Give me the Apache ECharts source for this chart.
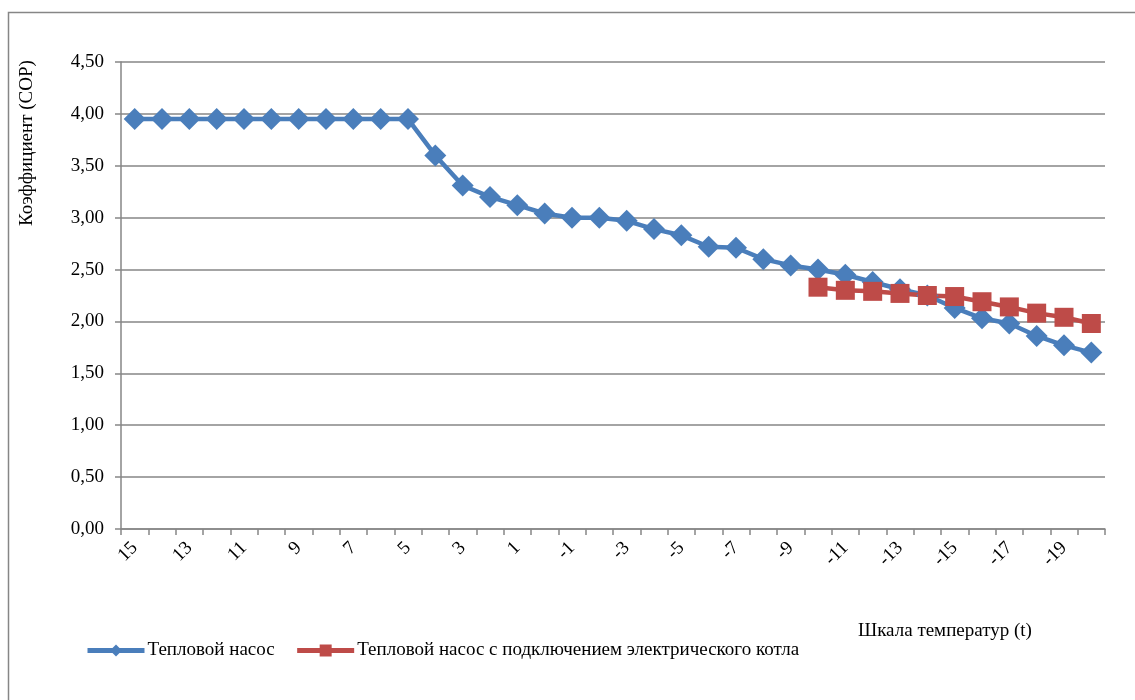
<!DOCTYPE html>
<html>
<head>
<meta charset="utf-8">
<script src="https://cdn.jsdelivr.net/npm/echarts@6/dist/echarts.min.js"></script>
<style>
html,body{margin:0;padding:0;background:#fff;}
#chart{width:1135px;height:700px;}
</style>
</head>
<body>
<div id="chart"></div>
<script>
const categories = ['15','14','13','12','11','10','9','8','7','6','5','4','3','2','1','0','-1','-2','-3','-4','-5','-6','-7','-8','-9','-10','-11','-12','-13','-14','-15','-16','-17','-18','-19','-20'];
const heatPump = [3.95,3.95,3.95,3.95,3.95,3.95,3.95,3.95,3.95,3.95,3.95,3.60,3.31,3.20,3.12,3.04,3.00,3.00,2.97,2.89,2.83,2.72,2.71,2.60,2.54,2.50,2.45,2.38,2.31,2.25,2.13,2.03,1.98,1.86,1.77,1.70];
const heatPumpBoiler = [null,null,null,null,null,null,null,null,null,null,null,null,null,null,null,null,null,null,null,null,null,null,null,null,null,2.33,2.30,2.29,2.27,2.25,2.24,2.19,2.14,2.08,2.04,1.98];
const seriesNames = ['Тепловой насос','Тепловой насос с подключением электрического котла'];
const yAxisTitle = 'Коэффициент (СОР)';
const xAxisTitle = 'Шкала температур (t)';

const FONT = '"Times New Roman", "Liberation Serif", serif';
const FS = 19;
const chart = echarts.init(document.getElementById('chart'));
chart.setOption({
  animation: false,
  backgroundColor: '#fff',
  textStyle: {fontFamily: FONT},
  grid: {left: 121, right: 30, top: 62, bottom: 171, containLabel: false},
  legend: {
    left: 80, top: 636, itemGap: 20, itemWidth: 57, itemHeight: 15,
    textStyle: {fontFamily: FONT, fontSize: FS, color: '#000', padding: [0, 0, 0, -2]},
    lineStyle: {width: 5},
    data: seriesNames
  },
  xAxis: {
    type: 'category', data: categories, boundaryGap: true,
    axisLine: {lineStyle: {color: '#868686', width: 1.5}},
    axisTick: {show: true, interval: 0, length: 6, lineStyle: {color: '#868686', width: 1.5}},
    axisLabel: {interval: 1, rotate: 45, margin: 16, fontFamily: FONT, fontSize: FS, color: '#000'}
  },
  yAxis: {
    type: 'value', min: 0, max: 4.5, interval: 0.5,
    axisLine: {show: true, lineStyle: {color: '#868686', width: 1.5}},
    axisTick: {show: true, length: 6, lineStyle: {color: '#868686', width: 1.5}},
    axisLabel: {margin: 17, fontFamily: FONT, fontSize: FS, color: '#000',
      formatter: v => v.toFixed(2).replace('.', ',')},
    splitLine: {lineStyle: {color: '#868686', width: 1.5}}
  },
  series: [
    {name: seriesNames[0], type: 'line', data: heatPump, symbol: 'diamond', symbolSize: 22, showAllSymbol: true,
     lineStyle: {color: '#4A7EBB', width: 4.5}, itemStyle: {color: '#4A7EBB'}},
    {name: seriesNames[1], type: 'line', data: heatPumpBoiler, symbol: 'rect', symbolSize: 19, showAllSymbol: true,
     lineStyle: {color: '#BE4B48', width: 4.5}, itemStyle: {color: '#BE4B48'}}
  ],
  graphic: [
    {type: 'rect', silent: true, shape: {x: 8.5, y: 12.5, width: 1140, height: 700},
     style: {fill: 'none', stroke: '#868686', lineWidth: 1.5}},
    {type: 'text', x: 27, y: 143, rotation: Math.PI / 2,
     style: {text: yAxisTitle, fontFamily: FONT, fontSize: FS, fill: '#000', align: 'center', verticalAlign: 'middle'}},
    {type: 'text', x: 858, y: 622,
     style: {text: xAxisTitle, fontFamily: FONT, fontSize: FS, fill: '#000', align: 'left', verticalAlign: 'top'}}
  ]
});
</script>
</body>
</html>
